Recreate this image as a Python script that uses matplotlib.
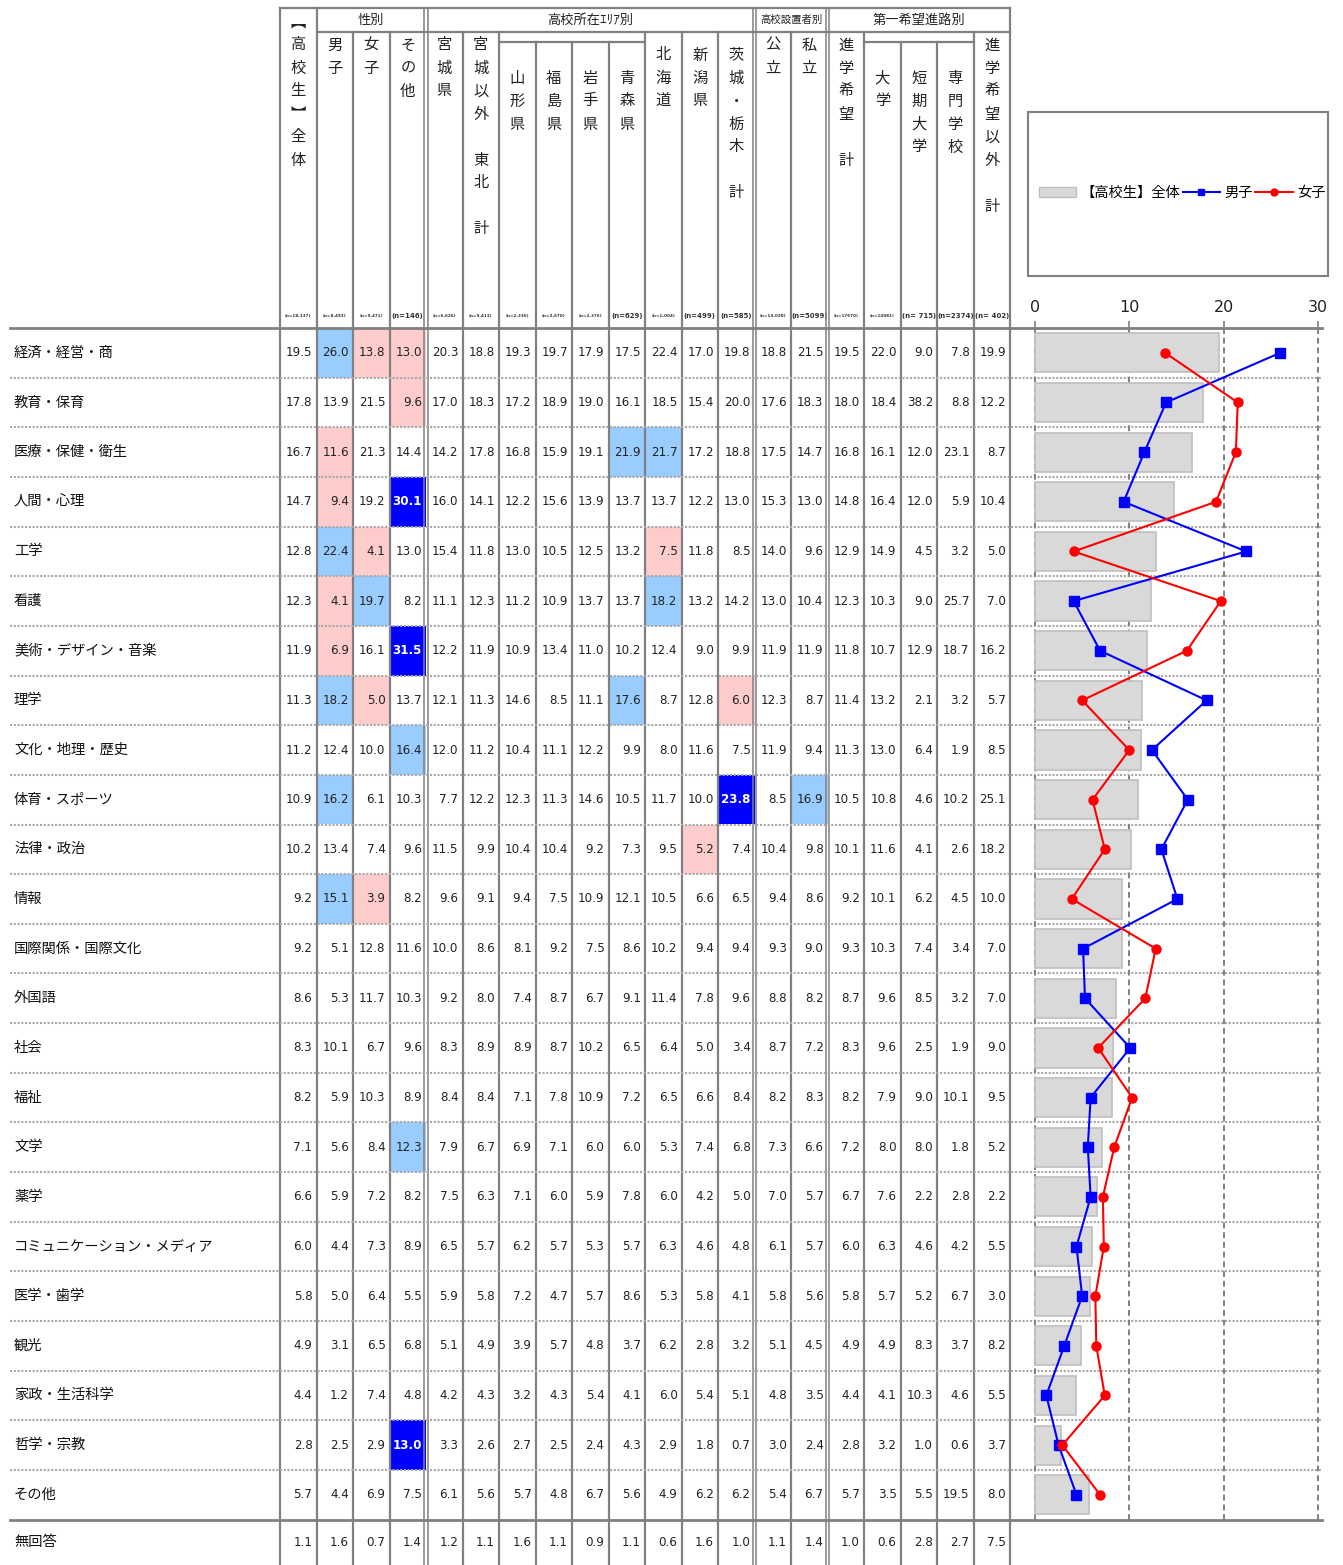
import matplotlib
matplotlib.use('Agg')
import matplotlib.pyplot as plt
from matplotlib.patches import Rectangle, Patch
from matplotlib.lines import Line2D

plt.rcParams['font.family'] = ['Noto Sans CJK JP', 'DejaVu Sans']

# ─── Data ─────────────────────────────────────────────────────────────────────
ROW_LABELS = [
    '経済・経営・商', '教育・保育', '医療・保健・衛生', '人間・心理', '工学', '看護',
    '美術・デザイン・音楽', '理学', '文化・地理・歴史', '体育・スポーツ', '法律・政治',
    '情報', '国際関係・国際文化', '外国語', '社会', '福祉', '文学', '薬学',
    'コミュニケーション・メディア', '医学・歯学', '観光', '家政・生活科学',
    '哲学・宗教', 'その他', '無回答',
]

TOTAL = [19.5, 17.8, 16.7, 14.7, 12.8, 12.3, 11.9, 11.3, 11.2, 10.9, 10.2, 9.2, 9.2,
         8.6, 8.3, 8.2, 7.1, 6.6, 6.0, 5.8, 4.9, 4.4, 2.8, 5.7, 1.1]
MALE = [26.0, 13.9, 11.6, 9.4, 22.4, 4.1, 6.9, 18.2, 12.4, 16.2, 13.4, 15.1, 5.1,
        5.3, 10.1, 5.9, 5.6, 5.9, 4.4, 5.0, 3.1, 1.2, 2.5, 4.4, 1.6]
FEMALE = [13.8, 21.5, 21.3, 19.2, 4.1, 19.7, 16.1, 5.0, 10.0, 6.1, 7.4, 3.9, 12.8,
          11.7, 6.7, 10.3, 8.4, 7.2, 7.3, 6.4, 6.5, 7.4, 2.9, 6.9, 0.7]
OTHER_GENDER = [13.0, 9.6, 14.4, 30.1, 13.0, 8.2, 31.5, 13.7, 16.4, 10.3, 9.6, 8.2, 11.6,
                10.3, 9.6, 8.9, 12.3, 8.2, 8.9, 5.5, 6.8, 4.8, 13.0, 7.5, 1.4]
MIYAGI = [20.3, 17.0, 14.2, 16.0, 15.4, 11.1, 12.2, 12.1, 12.0, 7.7, 11.5, 9.6, 10.0,
          9.2, 8.3, 8.4, 7.9, 7.5, 6.5, 5.9, 5.1, 4.2, 3.3, 6.1, 1.2]
TOHOKU_EX = [18.8, 18.3, 17.8, 14.1, 11.8, 12.3, 11.9, 11.3, 11.2, 12.2, 9.9, 9.1, 8.6,
             8.0, 8.9, 8.4, 6.7, 6.3, 5.7, 5.8, 4.9, 4.3, 2.6, 5.6, 1.1]
YAMAGATA = [19.3, 17.2, 16.8, 12.2, 13.0, 11.2, 10.9, 14.6, 10.4, 12.3, 10.4, 9.4, 8.1,
            7.4, 8.9, 7.1, 6.9, 7.1, 6.2, 7.2, 3.9, 3.2, 2.7, 5.7, 1.6]
FUKUSHIMA = [19.7, 18.9, 15.9, 15.6, 10.5, 10.9, 13.4, 8.5, 11.1, 11.3, 10.4, 7.5, 9.2,
             8.7, 8.7, 7.8, 7.1, 6.0, 5.7, 4.7, 5.7, 4.3, 2.5, 4.8, 1.1]
IWATE = [17.9, 19.0, 19.1, 13.9, 12.5, 13.7, 11.0, 11.1, 12.2, 14.6, 9.2, 10.9, 7.5,
         6.7, 10.2, 10.9, 6.0, 5.9, 5.3, 5.7, 4.8, 5.4, 2.4, 6.7, 0.9]
AOMORI = [17.5, 16.1, 21.9, 13.7, 13.2, 13.7, 10.2, 17.6, 9.9, 10.5, 7.3, 12.1, 8.6,
          9.1, 6.5, 7.2, 6.0, 7.8, 5.7, 8.6, 3.7, 4.1, 4.3, 5.6, 1.1]
HOKKAIDO = [22.4, 18.5, 21.7, 13.7, 7.5, 18.2, 12.4, 8.7, 8.0, 11.7, 9.5, 10.5, 10.2,
            11.4, 6.4, 6.5, 5.3, 6.0, 6.3, 5.3, 6.2, 6.0, 2.9, 4.9, 0.6]
NIIGATA = [17.0, 15.4, 17.2, 12.2, 11.8, 13.2, 9.0, 12.8, 11.6, 10.0, 5.2, 6.6, 9.4,
           7.8, 5.0, 6.6, 7.4, 4.2, 4.6, 5.8, 2.8, 5.4, 1.8, 6.2, 1.6]
IBARAKI_TOCHIGI = [19.8, 20.0, 18.8, 13.0, 8.5, 14.2, 9.9, 6.0, 7.5, 23.8, 7.4, 6.5, 9.4,
                   9.6, 3.4, 8.4, 6.8, 5.0, 4.8, 4.1, 3.2, 5.1, 0.7, 6.2, 1.0]
PUBLIC = [18.8, 17.6, 17.5, 15.3, 14.0, 13.0, 11.9, 12.3, 11.9, 8.5, 10.4, 9.4, 9.3,
          8.8, 8.7, 8.2, 7.3, 7.0, 6.1, 5.8, 5.1, 4.8, 3.0, 5.4, 1.1]
PRIVATE = [21.5, 18.3, 14.7, 13.0, 9.6, 10.4, 11.9, 8.7, 9.4, 16.9, 9.8, 8.6, 9.0,
           8.2, 7.2, 8.3, 6.6, 5.7, 5.7, 5.6, 4.5, 3.5, 2.4, 6.7, 1.4]
HIGHER_ED = [19.5, 18.0, 16.8, 14.8, 12.9, 12.3, 11.8, 11.4, 11.3, 10.5, 10.1, 9.2, 9.3,
             8.7, 8.3, 8.2, 7.2, 6.7, 6.0, 5.8, 4.9, 4.4, 2.8, 5.7, 1.0]
UNIVERSITY = [22.0, 18.4, 16.1, 16.4, 14.9, 10.3, 10.7, 13.2, 13.0, 10.8, 11.6, 10.1, 10.3,
              9.6, 9.6, 7.9, 8.0, 7.6, 6.3, 5.7, 4.9, 4.1, 3.2, 3.5, 0.6]
JUNIOR_COLLEGE = [9.0, 38.2, 12.0, 12.0, 4.5, 9.0, 12.9, 2.1, 6.4, 4.6, 4.1, 6.2, 7.4,
                  8.5, 2.5, 9.0, 8.0, 2.2, 4.6, 5.2, 8.3, 10.3, 1.0, 5.5, 2.8]
VOCATIONAL = [7.8, 8.8, 23.1, 5.9, 3.2, 25.7, 18.7, 3.2, 1.9, 10.2, 2.6, 4.5, 3.4,
              3.2, 1.9, 10.1, 1.8, 2.8, 4.2, 6.7, 3.7, 4.6, 0.6, 19.5, 2.7]
NON_HIGHER_ED = [19.9, 12.2, 8.7, 10.4, 5.0, 7.0, 16.2, 5.7, 8.5, 25.1, 18.2, 10.0, 7.0,
                 7.0, 9.0, 9.5, 5.2, 2.2, 5.5, 3.0, 8.2, 5.5, 3.7, 8.0, 7.5]

COLUMNS = [TOTAL, MALE, FEMALE, OTHER_GENDER, MIYAGI, TOHOKU_EX, YAMAGATA, FUKUSHIMA,
           IWATE, AOMORI, HOKKAIDO, NIIGATA, IBARAKI_TOCHIGI, PUBLIC, PRIVATE,
           HIGHER_ED, UNIVERSITY, JUNIOR_COLLEGE, VOCATIONAL, NON_HIGHER_ED]

N_LABELS = ['(n=18,137)', '(n=8,493)', '(n=9,471)', '(n=146)', '(n=6,626)', '(n=9,413)',
            '(n=2,336)', '(n=3,670)', '(n=2,376)', '(n=629)', '(n=1,004)', '(n=499)',
            '(n=585)', '(n=13,038)', '(n=5099)', '(n=17670)', '(n=14981)', '(n= 715)',
            '(n=2374)', '(n= 402)']

# vertical header text (spaces = empty line) and first-char y
HEADERS = [('︻高校生︼全体', 22), ('男子', 45), ('女子', 45), ('その他', 45),
           ('宮城県', 45), ('宮城以外 東北 計', 45), ('山形県', 78), ('福島県', 78),
           ('岩手県', 78), ('青森県', 78), ('北海道', 55), ('新潟県', 55),
           ('茨城・栃木 計', 55), ('公立', 45), ('私立', 45), ('進学希望 計', 45),
           ('大学', 78), ('短期大学', 78), ('専門学校', 78), ('進学希望以外 計', 45)]

GROUPS = [('性別', 1, 4, 9.5), ('高校所在ｴﾘｱ別', 4, 13, 9.5),
          ('高校設置者別', 13, 15, 7.5), ('第一希望進路別', 15, 20, 9.5)]

# ─── Canvas (pixel coordinates, y downwards) ──────────────────────────────────
W, H = 1343, 1565
fig = plt.figure(figsize=(W / 100, H / 100), dpi=100)
fig.patch.set_facecolor('white')
ax = fig.add_axes([0, 0, 1, 1])
ax.set_xlim(0, W)
ax.set_ylim(H, 0)
ax.axis('off')

GRID = '#808080'
LIGHT_BLUE = '#99CCFF'
PINK = '#FFCCCC'
DARK = '#0000FF'

X0 = 280
COL_W = 36.5
Y_TOP = 8
Y_GROUP = 32
Y_SUB = 42
ROW_Y0 = 328
ROW_H = 49.65
N_CHART = 24
Y_END = ROW_Y0 + N_CHART * ROW_H
NCOL = len(COLUMNS)
XB = [X0 + COL_W * k for k in range(NCOL + 1)]


def cell_colour(col, value, base):
    """Highlight rule: only gender / area / school-type columns."""
    if col < 1 or col > 14:
        return None
    d = round(value - base, 1)
    if d >= 10:
        return DARK
    if d >= 5:
        return LIGHT_BLUE
    if d <= -5:
        return PINK
    return None


def row_top(i):
    return ROW_Y0 + i * ROW_H if i < N_CHART else Y_END


# ─── Cells ────────────────────────────────────────────────────────────────────
for i, label in enumerate(ROW_LABELS):
    y0 = row_top(i)
    y1 = row_top(i) + ROW_H if i < N_CHART else H
    cy = (y0 + y1) / 2
    ax.text(14, cy, label, ha='left', va='center', fontsize=10.3, color='#111111')
    for c, col in enumerate(COLUMNS):
        v = col[i]
        fill = cell_colour(c, v, TOTAL[i])
        if fill:
            ax.add_patch(Rectangle((XB[c], y0), COL_W, y1 - y0, facecolor=fill,
                                   edgecolor='none', zorder=1))
        ax.text(XB[c + 1] - 4, cy, f'{v:.1f}', ha='right', va='center',
                fontsize=8.6, family='DejaVu Sans',
                color='white' if fill == DARK else '#222222',
                fontweight='bold' if fill == DARK else 'normal', zorder=3)

# ─── Header ───────────────────────────────────────────────────────────────────
for c, (txt, ystart) in enumerate(HEADERS):
    cx = (XB[c] + XB[c + 1]) / 2
    for k, ch in enumerate(txt):
        if ch != ' ':
            ax.text(cx, ystart + k * 23, ch, ha='center', va='center',
                    fontsize=11, color='#222222')
    small = len(N_LABELS[c]) > 8
    ax.text(cx, 316, N_LABELS[c], ha='center', va='center',
            family='DejaVu Sans', fontweight='bold', color='#333333',
            fontsize=3.0 if small else 5.0)

for name, a, b, fs in GROUPS:
    ax.text((XB[a] + XB[b]) / 2, 20, name, ha='center', va='center',
            fontsize=fs, color='#222222')

# ─── Grid lines ───────────────────────────────────────────────────────────────
LW = 1.6
ax.plot([X0, XB[-1]], [Y_TOP, Y_TOP], color=GRID, lw=LW, zorder=4)
ax.plot([XB[1], XB[-1]], [Y_GROUP, Y_GROUP], color=GRID, lw=LW, zorder=4)
for a, b in [(6, 10), (16, 19)]:
    ax.plot([XB[a], XB[b]], [Y_SUB, Y_SUB], color=GRID, lw=LW, zorder=4)

group_edges = {0, 1, 4, 13, 15, 20}
double_edges = {4, 13, 15}
sub_edges = {7, 8, 9, 17, 18}
for k, x in enumerate(XB):
    ytop = Y_TOP if k in group_edges else (Y_SUB if k in sub_edges else Y_GROUP)
    if k in double_edges:
        for dx in (-1.6, 1.6):
            ax.plot([x + dx, x + dx], [ytop, H], color=GRID, lw=1.1, zorder=4)
    else:
        ax.plot([x, x], [ytop, H], color=GRID, lw=LW, zorder=4)

# horizontal row separators
ax.plot([10, 1322], [ROW_Y0, ROW_Y0], color=GRID, lw=2.0, zorder=4)
ax.plot([10, 1322], [Y_END, Y_END], color=GRID, lw=2.0, zorder=4)
for i in range(1, N_CHART):
    y = row_top(i)
    ax.plot([10, 1322], [y, y], color='#A8A8A8', lw=1.5, ls=(0, (1, 0.8)), zorder=4)

# ─── Chart ────────────────────────────────────────────────────────────────────
PX_PER_UNIT = 9.43
CX0, CX1 = 1030, 1322
axc = fig.add_axes([CX0 / W, 1 - Y_END / H, (CX1 - CX0) / W, (Y_END - ROW_Y0) / H])
axc.set_facecolor('none')
axc.set_xlim(-(1035 - CX0) / PX_PER_UNIT, (CX1 - 1035) / PX_PER_UNIT)
axc.set_ylim(N_CHART - 0.5, -0.5)
ys = list(range(N_CHART))

for xv in (0, 10, 20, 30):
    axc.axvline(xv, color=GRID, lw=1.4, ls=(0, (3, 2)), zorder=1)

axc.barh(ys, TOTAL[:N_CHART], height=0.79, color='#D9D9D9', edgecolor='#BFBFBF',
         linewidth=1.2, zorder=2)
axc.plot(MALE[:N_CHART], ys, color='#0000FF', lw=1.5, marker='s', ms=6.5, zorder=3)
axc.plot(FEMALE[:N_CHART], ys, color='#FF0000', lw=1.5, marker='o', ms=6.5, zorder=4)

for s in axc.spines.values():
    s.set_visible(False)
axc.set_yticks([])
axc.xaxis.tick_top()
axc.set_xticks([0, 10, 20, 30])
axc.tick_params(axis='x', direction='out', length=5, width=1.2, color=GRID,
                labelsize=11.5, pad=4, labelcolor='#222222')
for t in axc.get_xticklabels():
    t.set_family('DejaVu Sans')

# ─── Legend ───────────────────────────────────────────────────────────────────
ax.add_patch(Rectangle((1028, 112), 300, 164, facecolor='white', edgecolor=GRID,
                       lw=1.5, zorder=5))
handles = [Patch(facecolor='#D9D9D9', edgecolor='#BFBFBF'),
           Line2D([], [], color='#0000FF', lw=1.5, marker='s', ms=5),
           Line2D([], [], color='#FF0000', lw=1.5, marker='o', ms=5)]
fig.legend(handles, ['【高校生】全体', '男子', '女子'], loc='center',
           bbox_to_anchor=(1182 / W, 1 - 193 / H), ncol=3, frameon=False,
           fontsize=10.3, handlelength=2.6, handletextpad=0.3, columnspacing=0.2,
           borderpad=0)

fig.savefig('out.png', dpi=100, facecolor='white')
